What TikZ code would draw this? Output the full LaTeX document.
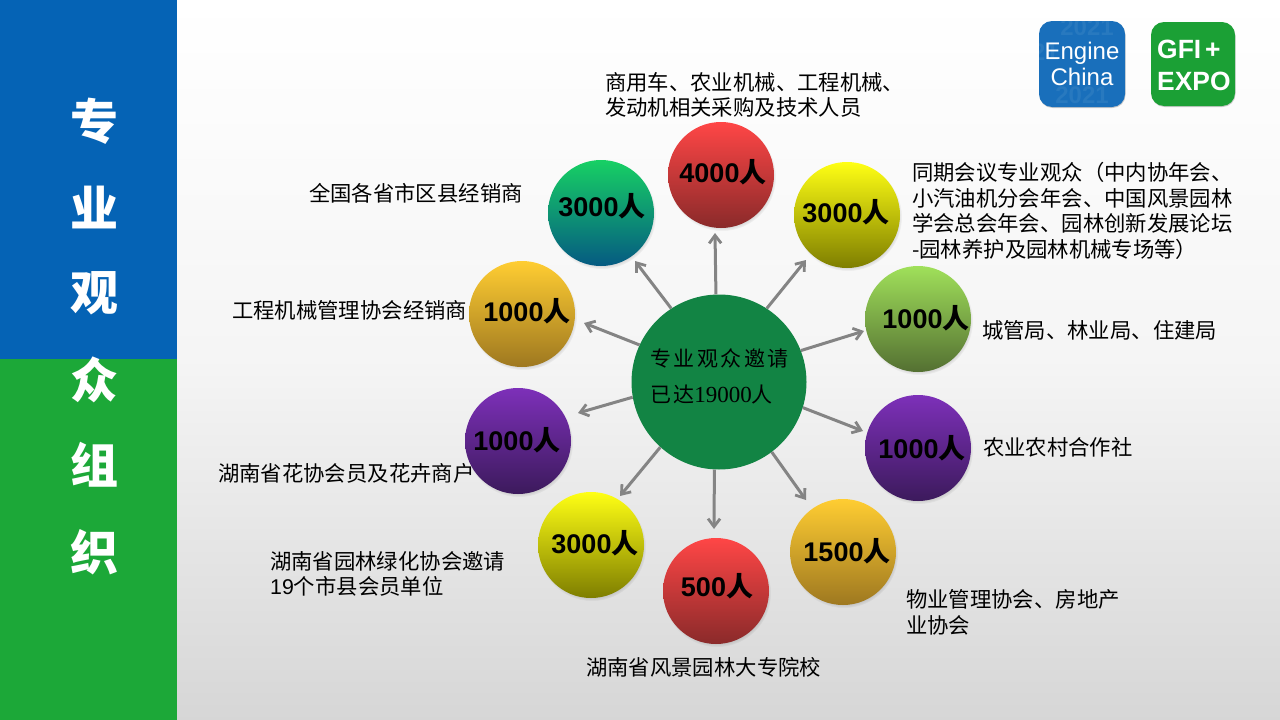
\documentclass[tikz,border=0pt]{standalone}
\usepackage{fontspec}
\setmainfont{Liberation Sans}
\newfontfamily\cjk{Noto Sans CJK SC}
\newfontfamily\serifdigits{Liberation Serif}
\newcommand{\numtext}[1]{{\bfseries #1\cjk\bfseries 人}}
\usetikzlibrary{shadows,arrows.meta}
\definecolor{barblue}{HTML}{0563B5}
\definecolor{bargreen}{HTML}{1CA838}
\definecolor{hubgreen}{HTML}{128444}
\definecolor{arrowgray}{HTML}{848484}
\definecolor{redt}{RGB}{255,70,70}\definecolor{redm}{RGB}{222,60,60}\definecolor{redl}{RGB}{138,42,42}
\definecolor{yelt}{RGB}{255,255,20}\definecolor{yelm}{RGB}{222,222,16}\definecolor{yell}{RGB}{126,126,0}
\definecolor{grnt}{RGB}{160,224,90}\definecolor{grnm}{RGB}{140,198,80}\definecolor{grnl}{RGB}{84,112,50}
\definecolor{purt}{RGB}{125,48,185}\definecolor{purm}{RGB}{110,42,162}\definecolor{purl}{RGB}{60,26,92}
\definecolor{orat}{RGB}{255,205,50}\definecolor{oram}{RGB}{228,182,44}\definecolor{oral}{RGB}{158,120,32}
\definecolor{teat}{RGB}{23,208,100}\definecolor{team}{RGB}{18,165,112}\definecolor{teal2}{RGB}{5,90,130}
\tikzset{
  x=1pt,y=-1pt,
  ball/.style={circle,minimum size=106pt,inner sep=0pt,
    circular drop shadow={shadow xshift=1pt,shadow yshift=-2pt,shadow scale=1.02,fill=black,opacity=.25}},
  redb/.style={ball,top color=redt,middle color=redm,bottom color=redl},
  yelb/.style={ball,top color=yelt,middle color=yelm,bottom color=yell},
  grnb/.style={ball,top color=grnt,middle color=grnm,bottom color=grnl},
  purb/.style={ball,top color=purt,middle color=purm,bottom color=purl},
  orab/.style={ball,top color=orat,middle color=oram,bottom color=oral},
  teab/.style={ball,top color=teat,middle color=team,bottom color=teal2},
  num/.style={inner sep=0pt,text=black,font=\fontsize{27}{27}\selectfont},
  lab/.style={anchor=west,inner sep=0pt,align=left,text=black,font=\cjk\fontsize{21.35}{25.7}\selectfont},
  side/.style={text=white,inner sep=0pt,font=\cjk\bfseries\fontsize{48}{48}\selectfont},
  spoke/.style={draw=arrowgray,line width=3pt,-{Straight Barb[length=8pt,width=12pt,line width=2.8pt]}},
  logo/.style={rounded corners=13pt,drop shadow={shadow xshift=0.5pt,shadow yshift=-1pt,fill=black,opacity=.2}},
  logotext/.style={text=white,inner sep=0pt,font=\fontsize{24}{24}\selectfont},
  gfitext/.style={text=white,inner sep=0pt,anchor=west,font=\bfseries\fontsize{26.4}{26.4}\selectfont},
  faint/.style={text=white!14!barblue,inner sep=0pt,font=\bfseries\fontsize{24}{24}\selectfont},
  hubtext/.style={anchor=west,inner sep=0pt,text=black,font=\cjk\fontsize{21}{21}\selectfont},
}
\begin{document}
\begin{tikzpicture}
\useasboundingbox (0,0) rectangle (1280,720);
\shade[top color=white,bottom color=white!84!black,middle color=white!96!black] (0,0) rectangle (1280,720);
\fill[barblue] (0,0) rectangle (177,359);
\fill[bargreen] (0,359) rectangle (177,720);
\node[side] (s1) at (94,121) {专};
\node[side] (s2) at (94,207) {业};
\node[side] (s3) at (94,293) {观};
\node[side] (s4) at (94,380) {众};
\node[side] (s5) at (94,465) {组};
\node[side] (s6) at (94,552) {织};
% logos
\fill[logo,fill=barblue!92!white] (1039,21) rectangle (1125,107);
\begin{scope}
\clip[rounded corners=13pt] (1039,21) rectangle (1125,107);
\node[faint] (f1) at (1087,27) {2021};
\node[faint] (f2) at (1082,95) {2021};
\node[faint] (f3) at (1032,52) {2021};
\end{scope}
\node[logotext] (en) at (1082,53) {Engine};
\node[logotext] (ch) at (1082,77) {China};
\fill[logo,fill=bargreen!95!black] (1151,22) rectangle (1235,106);
\node[gfitext] (gfi) at (1157,49) {GFI\hspace{4pt}+};
\node[gfitext] (ex) at (1157,81) {EXPO};
% balls
\node[redb] (n1) at (721,175) {};
\node[yelb] (n2) at (847,215) {};
\node[grnb] (n3) at (918,319) {};
\node[purb] (n4) at (918,448) {};
\node[orab] (n5) at (843,552) {};
\node[redb] (n6) at (716,591) {};
\node[yelb] (n7) at (591,545) {};
\node[purb] (n8) at (518,441) {};
\node[orab] (n9) at (522,314) {};
\node[teab] (n10) at (601,213) {};
\node[num] (v1) at (723,172) {\numtext{4000}};
\node[num] (v2) at (846,212) {\numtext{3000}};
\node[num] (v3) at (926,318) {\numtext{1000}};
\node[num] (v4) at (922,448) {\numtext{1000}};
\node[num] (v5) at (847,551) {\numtext{1500}};
\node[num] (v6) at (717,586) {\numtext{500}};
\node[num] (v7) at (595,543) {\numtext{3000}};
\node[num] (v8) at (517,440) {\numtext{1000}};
\node[num] (v9) at (527,311) {\numtext{1000}};
\node[num] (v10) at (602,206) {\numtext{3000}};
% hub
\node[circle,fill=hubgreen,minimum size=175pt,inner sep=0pt] (hub) at (719,382) {};
\node[hubtext] (hubt1) at (650,358) {\addfontfeatures{LetterSpace=12}专业观众邀请};
\node[hubtext] (hubt2) at (650,395) {\addfontfeatures{LetterSpace=10}已达{\serifdigits\fontsize{23}{23}\selectfont 19000}人};
% arrow tips
\coordinate (t1) at (715,233);
\coordinate (t2) at (806,260);
\coordinate (t3) at (864,331);
\coordinate (t4) at (863,431);
\coordinate (t5) at (806,500);
\coordinate (t6) at (714,529);
\coordinate (t7) at (620,496);
\coordinate (t8) at (578,413);
\coordinate (t9) at (584,323);
\coordinate (t10) at (635,261);
\draw[spoke] (hub.92.6) -- (t1);
\draw[spoke] (hub.57) -- (t2);
\draw[spoke] (hub.21.7) -- (t3);
\draw[spoke] (hub.-17) -- (t4);
\draw[spoke] (hub.-53.4) -- (t5);
\draw[spoke] (hub.-93) -- (t6);
\draw[spoke] (hub.-132.6) -- (t7);
\draw[spoke] (hub.-170) -- (t8);
\draw[spoke] (hub.155.5) -- (t9);
\draw[spoke] (hub.123) -- (t10);
% labels
\node[lab] (l1) at (605,95) {商用车、农业机械、工程机械、\\发动机相关采购及技术人员};
\node[lab] (l2) at (912,211) {同期会议专业观众（中内协年会、\\小汽油机分会年会、中国风景园林\\学会总会年会、园林创新发展论坛\\-园林养护及园林机械专场等）};
\node[lab] (l3) at (982,330) {城管局、林业局、住建局};
\node[lab] (l4) at (983,447) {农业农村合作社};
\node[lab] (l5) at (906,612) {物业管理协会、房地产\\业协会};
\node[lab] (l6) at (586,667) {湖南省风景园林大专院校};
\node[lab] (l7) at (270,574) {湖南省园林绿化协会邀请\\{\normalfont 19}个市县会员单位};
\node[lab] (l8) at (218,473) {湖南省花协会员及花卉商户};
\node[lab] (l9) at (232,310) {工程机械管理协会经销商};
\node[lab] (l10) at (309,193) {全国各省市区县经销商};
\end{tikzpicture}
\end{document}
